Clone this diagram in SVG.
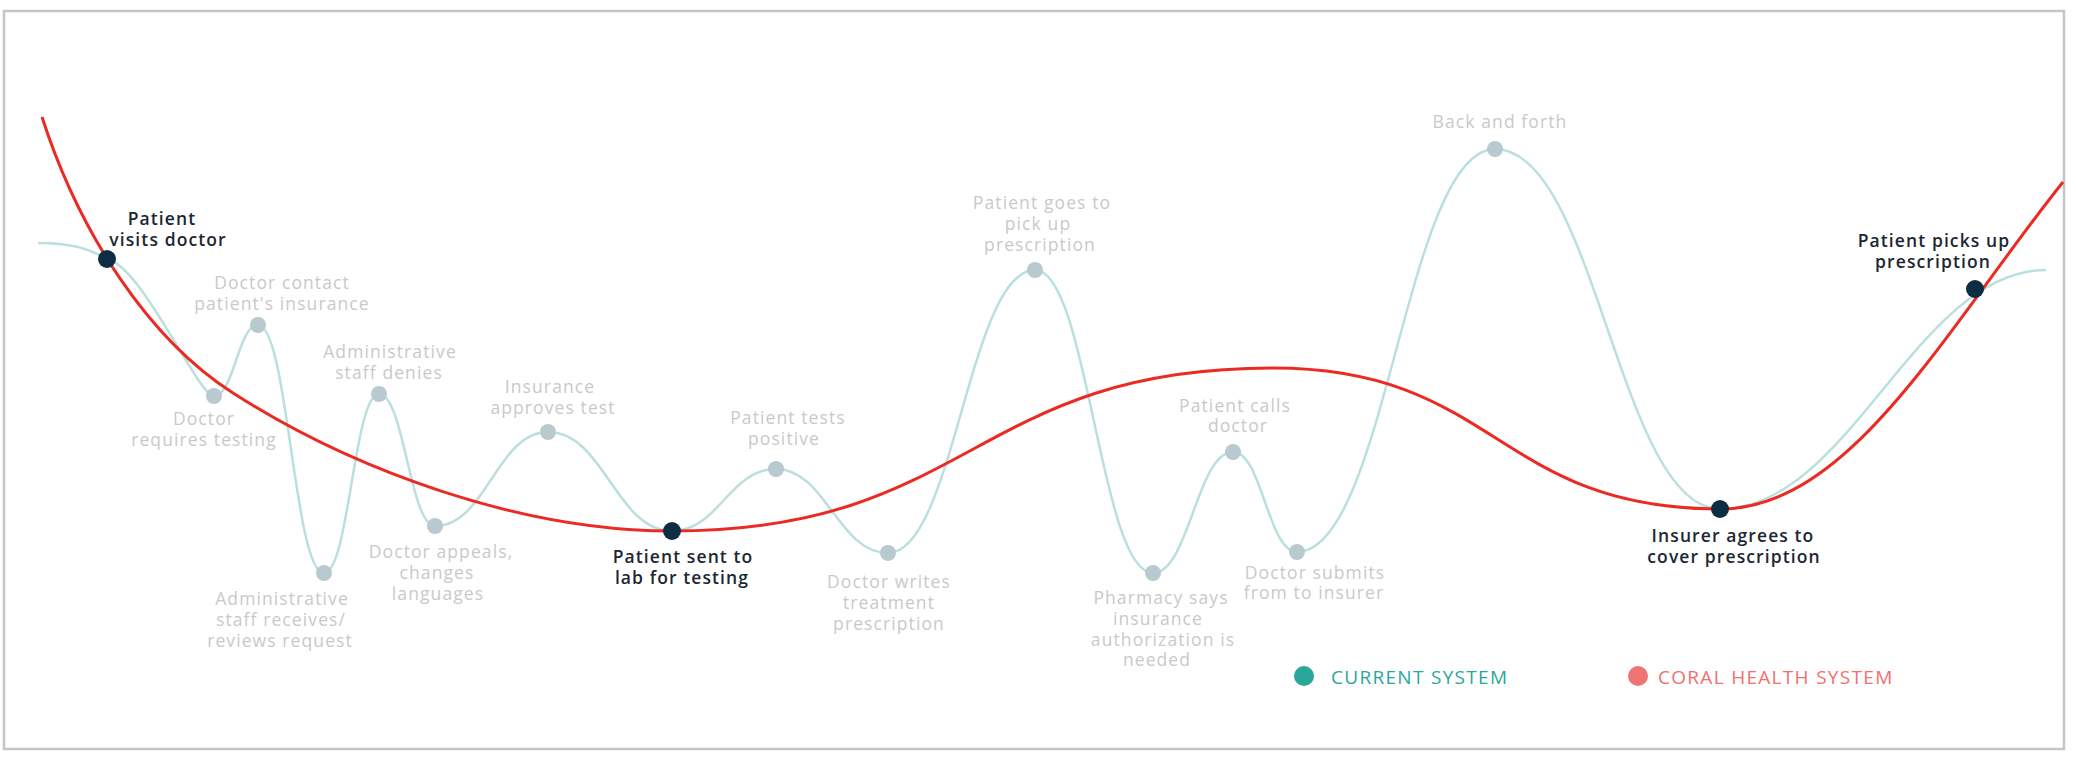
<svg xmlns="http://www.w3.org/2000/svg" width="2076" height="764" viewBox="0 0 2076 764">
  <style>
    .lbl { font-family: "Open Sans", "DejaVu Sans", sans-serif; font-size: 17.5px; letter-spacing: 1.1px; text-anchor: middle; fill: #c9c9c9; }
    .key { fill: #1c2733; font-weight: 600; }
    .cur { fill: none; stroke: #b9e0df; stroke-width: 2.5; }
    .coral { fill: none; stroke: #ec2a24; stroke-width: 3; }
    .step { fill: #b9c9d0; }
    .mile { fill: #0d2d44; }
    .leg { font-family: "Open Sans", "DejaVu Sans", sans-serif; font-size: 19px; letter-spacing: 1.3px; }
  </style>
  <rect x="0" y="0" width="2076" height="764" fill="#ffffff"/>
  <rect x="4" y="11" width="2060" height="738" fill="#ffffff" stroke="#c6c6c6" stroke-width="2.5"/>

  <g id="connectors">
    <path id="current-system" class="cur" d="M38,243 C70,243 88,248 107,259 C142,266 198,396 214,396 C234,396 238,325 258,325 C288,325 294,573 324,573 C349,573 354,394 379,394 C404,394 410,526 435,526 C486,526 497,432 548,432 C604,432 616,531 672,531 C719,531 729,469 776,469 C826,469 838,553 888,553 C954,553 969,270 1035,270 C1088,270 1100,573 1153,573 C1189,573 1197,452 1233,452 C1262,452 1268,552 1297,552 C1386,552 1406,149 1495,149 C1596,149 1619,509 1720,509 C1850,509 1916,270 2046,270"/>
    <path id="coral-system" class="coral" d="M42,117 C80,235 150,340 233,393 C353,470 520,531 672,531 C972,531 973,368 1273,368 C1497,368 1496,509 1720,509 C1850,509 1945,330 2063,182"/>
  </g>

  <g id="n1"><circle class="mile" cx="107" cy="259" r="9"/>
    <text class="lbl key"><tspan x="162" y="225">Patient</tspan><tspan x="168" y="246">visits doctor</tspan></text></g>
  <g id="n2"><circle class="step" cx="214" cy="396" r="8"/>
    <text class="lbl"><tspan x="204" y="425">Doctor</tspan><tspan x="204" y="446">requires testing</tspan></text></g>
  <g id="n3"><circle class="step" cx="258" cy="325" r="8"/>
    <text class="lbl"><tspan x="282" y="289">Doctor contact</tspan><tspan x="282" y="310">patient's insurance</tspan></text></g>
  <g id="n4"><circle class="step" cx="324" cy="573" r="8"/>
    <text class="lbl"><tspan x="282" y="605">Administrative</tspan><tspan x="281" y="626">staff receives/</tspan><tspan x="280" y="647">reviews request</tspan></text></g>
  <g id="n5"><circle class="step" cx="379" cy="394" r="8"/>
    <text class="lbl"><tspan x="390" y="358">Administrative</tspan><tspan x="389" y="379">staff denies</tspan></text></g>
  <g id="n6"><circle class="step" cx="435" cy="526" r="8"/>
    <text class="lbl"><tspan x="441" y="558">Doctor appeals,</tspan><tspan x="437" y="579">changes</tspan><tspan x="438" y="600">languages</tspan></text></g>
  <g id="n7"><circle class="step" cx="548" cy="432" r="8"/>
    <text class="lbl"><tspan x="550" y="393">Insurance</tspan><tspan x="553" y="414">approves test</tspan></text></g>
  <g id="n8"><circle class="mile" cx="672" cy="531" r="9"/>
    <text class="lbl key"><tspan x="683" y="563">Patient sent to</tspan><tspan x="682" y="584">lab for testing</tspan></text></g>
  <g id="n9"><circle class="step" cx="776" cy="469" r="8"/>
    <text class="lbl"><tspan x="788" y="424">Patient tests</tspan><tspan x="784" y="445">positive</tspan></text></g>
  <g id="n10"><circle class="step" cx="888" cy="553" r="8"/>
    <text class="lbl"><tspan x="889" y="588">Doctor writes</tspan><tspan x="889" y="609">treatment</tspan><tspan x="889" y="630">prescription</tspan></text></g>
  <g id="n11"><circle class="step" cx="1035" cy="270" r="8"/>
    <text class="lbl"><tspan x="1042" y="209">Patient goes to</tspan><tspan x="1038" y="230">pick up</tspan><tspan x="1040" y="251">prescription</tspan></text></g>
  <g id="n12"><circle class="step" cx="1153" cy="573" r="8"/>
    <text class="lbl"><tspan x="1161" y="604">Pharmacy says</tspan><tspan x="1158" y="625">insurance</tspan><tspan x="1163" y="646">authorization is</tspan><tspan x="1157" y="666">needed</tspan></text></g>
  <g id="n13"><circle class="step" cx="1233" cy="452" r="8"/>
    <text class="lbl"><tspan x="1235" y="412">Patient calls</tspan><tspan x="1238" y="432">doctor</tspan></text></g>
  <g id="n14"><circle class="step" cx="1297" cy="552" r="8"/>
    <text class="lbl"><tspan x="1315" y="579">Doctor submits</tspan><tspan x="1314" y="599">from to insurer</tspan></text></g>
  <g id="n15"><circle class="step" cx="1495" cy="149" r="8"/>
    <text class="lbl"><tspan x="1500" y="128">Back and forth</tspan></text></g>
  <g id="n16"><circle class="mile" cx="1720" cy="509" r="9"/>
    <text class="lbl key"><tspan x="1733" y="542">Insurer agrees to</tspan><tspan x="1734" y="563">cover prescription</tspan></text></g>
  <g id="n17"><circle class="mile" cx="1975" cy="289" r="9"/>
    <text class="lbl key"><tspan x="1934" y="247">Patient picks up</tspan><tspan x="1933" y="268">prescription</tspan></text></g>

  <g id="legend">
    <circle cx="1304" cy="676" r="10" fill="#2aa79b"/>
    <text class="leg" x="1331" y="684" fill="#2aa79b">CURRENT SYSTEM</text>
    <circle cx="1638" cy="676" r="10" fill="#f07474"/>
    <text class="leg" x="1658" y="684" fill="#f07070">CORAL HEALTH SYSTEM</text>
  </g>
</svg>
